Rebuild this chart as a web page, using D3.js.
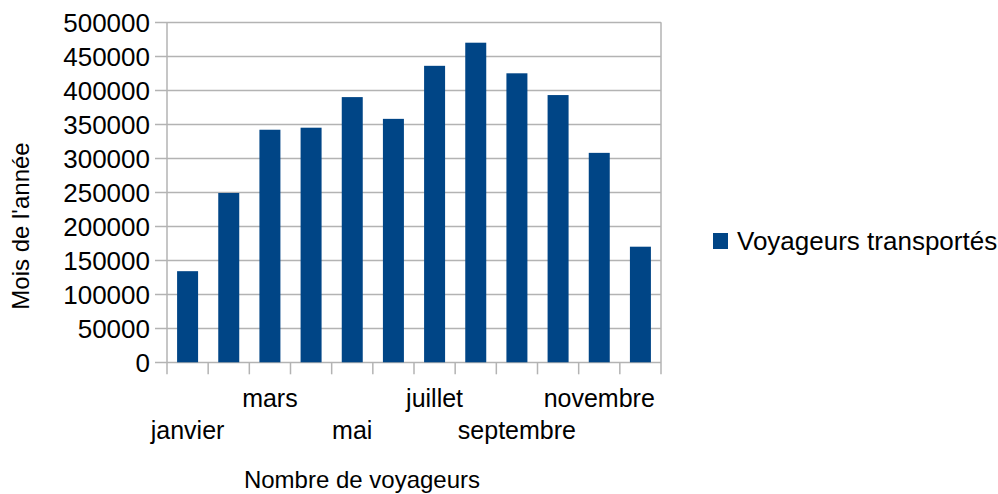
<!DOCTYPE html>
<html lang="fr">
<head>
    <meta charset="UTF-8">
    <title>Voyageurs transportés par mois</title>
    <script src="https://d3js.org/d3.v7.min.js"></script>
    <style>
        body {
            margin: 0;
            background: white;
        }
        text {
            font-family: "Liberation Sans", Arial, sans-serif;
            fill: black;
        }
    </style>
</head>
<body>
    <svg id="chart" width="998" height="494"></svg>
    <script>
        const months = ["janvier", "février", "mars", "avril", "mai", "juin",
            "juillet", "août", "septembre", "octobre", "novembre", "décembre"];
        const voyageurs = [134000, 249000, 342000, 345000, 390000, 358000,
            436000, 470000, 425000, 393000, 308000, 170000];
        const yTicks = [0, 50000, 100000, 150000, 200000, 250000, 300000, 350000, 400000, 450000, 500000];
        const seriesName = "Voyageurs transportés";

        const svg = d3.select("#chart");
        const plotLeft = 167, plotRight = 661, plotTop = 22.3, plotBottom = 362.3;
        const barColor = "#004586";
        const gridColor = "#b3b3b3";

        const x = d3.scaleBand()
            .domain(months)
            .range([plotLeft, plotRight])
            .paddingInner(0.49)
            .paddingOuter(0.245);

        const y = d3.scaleLinear()
            .domain([0, 500000])
            .range([plotBottom, plotTop]);

        // gridlines + ticks on the left
        svg.append("g")
            .selectAll("line")
            .data(yTicks)
            .enter().append("line")
            .attr("x1", plotLeft - 12)
            .attr("x2", plotRight)
            .attr("y1", d => Math.round(y(d)) + 0.5)
            .attr("y2", d => Math.round(y(d)) + 0.5)
            .attr("stroke", gridColor)
            .attr("stroke-width", 1.5);

        svg.append("g")
            .selectAll("text")
            .data(yTicks)
            .enter().append("text")
            .attr("x", plotLeft - 17)
            .attr("y", d => y(d))
            .attr("dy", "0.36em")
            .attr("text-anchor", "end")
            .attr("font-size", "26px")
            .text(d => d);

        // bars
        svg.append("g")
            .selectAll("rect")
            .data(voyageurs)
            .enter().append("rect")
            .attr("x", (d, i) => x(months[i]))
            .attr("width", x.bandwidth())
            .attr("y", d => y(d))
            .attr("height", d => y(0) - y(d))
            .attr("fill", barColor);

        // walls
        svg.append("line")
            .attr("x1", plotLeft).attr("x2", plotLeft)
            .attr("y1", plotTop).attr("y2", plotBottom + 12)
            .attr("stroke", gridColor).attr("stroke-width", 1.5);
        svg.append("line")
            .attr("x1", plotRight).attr("x2", plotRight)
            .attr("y1", plotTop).attr("y2", plotBottom + 12)
            .attr("stroke", gridColor).attr("stroke-width", 1.5);

        // category ticks at band boundaries
        const step = x.step();
        svg.append("g")
            .selectAll("line")
            .data(d3.range(1, months.length))
            .enter().append("line")
            .attr("x1", i => plotLeft + i * step)
            .attr("x2", i => plotLeft + i * step)
            .attr("y1", plotBottom)
            .attr("y2", plotBottom + 12)
            .attr("stroke", gridColor)
            .attr("stroke-width", 1.5);

        // staggered labels, only every other shown
        svg.append("g")
            .selectAll("text")
            .data(months.filter((m, i) => i % 2 === 0))
            .enter().append("text")
            .attr("x", d => x(d) + x.bandwidth() / 2)
            .attr("y", (d, i) => i % 2 === 0 ? 439 : 407)
            .attr("text-anchor", "middle")
            .attr("font-size", "25px")
            .text(d => d);

        // axis titles
        svg.append("text")
            .attr("transform", "translate(29,226) rotate(-90)")
            .attr("text-anchor", "middle")
            .attr("font-size", "24px")
            .text("Mois de l'année");

        svg.append("text")
            .attr("x", 362)
            .attr("y", 488)
            .attr("text-anchor", "middle")
            .attr("font-size", "24px")
            .text("Nombre de voyageurs");

        // legend
        const legend = svg.append("g").attr("transform", "translate(713,233)");
        legend.append("rect")
            .attr("width", 15)
            .attr("height", 16)
            .attr("fill", barColor);
        legend.append("text")
            .attr("x", 24)
            .attr("y", 8)
            .attr("dy", "0.36em")
            .attr("font-size", "26px")
            .text(seriesName);
    </script>
</body>
</html>
